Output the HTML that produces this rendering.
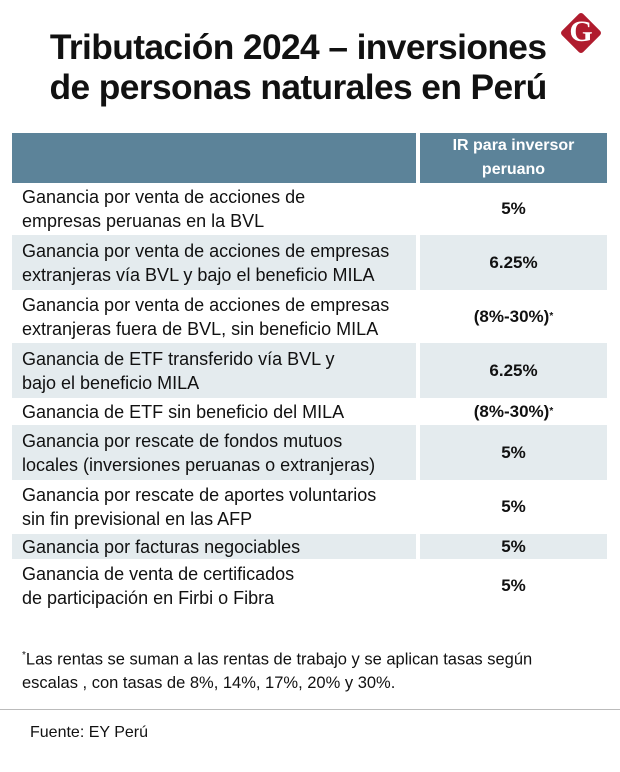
<!DOCTYPE html>
<html><head><meta charset="utf-8"><style>
body{margin:0;width:620px;height:772px;background:#fff;font-family:"Liberation Sans",sans-serif;color:#111;position:relative;overflow:hidden}
.title{position:absolute;left:0;width:596px;text-align:center;font-weight:bold;font-size:35px;line-height:40px;top:28px;letter-spacing:-0.6px}
.title span{display:inline-block;transform:scaleX(1.01)}
.logo{position:absolute;left:566px;top:18px;width:30px;height:30px;background:#b01c2e;transform:rotate(45deg);border-radius:3px}
.logoG{position:absolute;left:566px;top:15px;width:30px;text-align:center;font:bold 30px "Liberation Serif",serif;color:#fff}
.row{position:absolute;left:12px;width:595px}
.l{position:absolute;left:0;width:404px;height:100%;box-sizing:border-box;padding-left:10px;display:flex;align-items:center;font-size:18px;line-height:24px;letter-spacing:0px}
.r{position:absolute;left:408px;width:187px;height:100%;display:flex;align-items:center;justify-content:center;font-weight:bold;font-size:17px}
.g .l,.g .r{background:#e4ebee}
.h .l,.h .r{background:#5c8399;color:#fff}
.h .r{font-size:16px;line-height:24px;text-align:center}
sup{font-size:10px}
.foot{position:absolute;left:22px;top:644px;font-size:16.5px;line-height:23px}
.hr{position:absolute;left:0;width:620px;top:709px;height:1px;background:#bbb}
.src{position:absolute;left:30px;top:724px;font-size:16px}
</style></head><body>
<div class="title"><span>Tributación 2024 – inversiones<br>de personas naturales en Perú</span></div>
<div class="logo"></div><div class="logoG">G</div>
<div class="row h" style="top:133px;height:50px"><div class="l"></div><div class="r">IR para inversor<br>peruano</div></div>
<div class="row" style="top:183px;height:51px"><div class="l">Ganancia por venta de acciones de<br>empresas peruanas en la BVL</div><div class="r">5%</div></div>
<div class="row g" style="top:235px;height:55px"><div class="l">Ganancia por venta de acciones de empresas<br>extranjeras vía BVL y bajo el beneficio MILA</div><div class="r">6.25%</div></div>
<div class="row" style="top:291px;height:51px"><div class="l">Ganancia por venta de acciones de empresas<br>extranjeras fuera de BVL, sin beneficio MILA</div><div class="r">(8%-30%)<sup>*</sup></div></div>
<div class="row g" style="top:343px;height:55px"><div class="l">Ganancia de ETF transferido vía BVL y<br>bajo el beneficio MILA</div><div class="r">6.25%</div></div>
<div class="row" style="top:399px;height:25px"><div class="l">Ganancia de ETF sin beneficio del MILA</div><div class="r">(8%-30%)<sup>*</sup></div></div>
<div class="row g" style="top:425px;height:55px"><div class="l">Ganancia por rescate de fondos mutuos<br>locales (inversiones peruanas o extranjeras)</div><div class="r">5%</div></div>
<div class="row" style="top:481px;height:52px"><div class="l">Ganancia por rescate de aportes voluntarios<br>sin fin previsional en las AFP</div><div class="r">5%</div></div>
<div class="row g" style="top:534px;height:25px"><div class="l">Ganancia por facturas negociables</div><div class="r">5%</div></div>
<div class="row" style="top:560px;height:52px"><div class="l">Ganancia de venta de certificados<br>de participación en Firbi o Fibra</div><div class="r">5%</div></div>
<div class="foot"><sup>*</sup>Las rentas se suman a las rentas de trabajo y se aplican tasas según<br>escalas , con tasas de 8%, 14%, 17%, 20% y 30%.</div>
<div class="hr"></div>
<div class="src">Fuente: EY Perú</div>
</body></html>
